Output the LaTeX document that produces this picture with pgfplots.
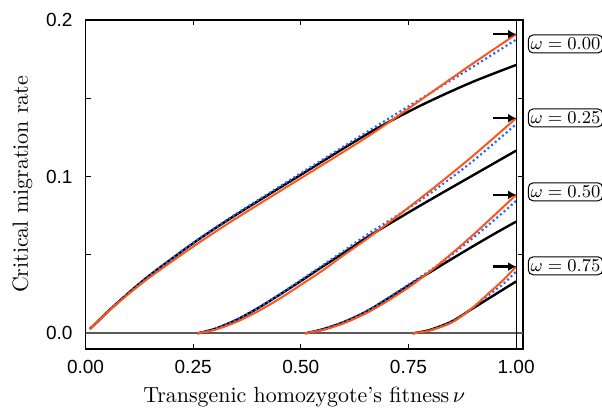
\documentclass[border=0pt]{standalone}
\usepackage{pgfplots}
\pgfplotsset{compat=1.18}
\usepackage{fontspec}
\newfontfamily\ticksans{Liberation Sans}
\usetikzlibrary{arrows.meta}
\definecolor{myorange}{RGB}{255,85,25}
\definecolor{myblue}{RGB}{40,100,250}
\definecolor{zerogray}{RGB}{90,90,90}
\begin{document}
\begin{tikzpicture}
\begin{axis}[name=ax, scale only axis, width=218.75pt, height=164.5pt,
 xmin=0, xmax=1.016, ymin=-0.01, ymax=0.2,
 xtick={0,0.25,0.5,0.75,1}, ytick={0,0.1,0.2}, minor ytick={0.05,0.15},
 tick align=inside, major tick length=2.5pt, minor tick length=2.5pt,
 tick style={black, line width=0.5pt},
 axis line style={line width=0.8pt},
 scaled ticks=false,
 /pgf/number format/assume math mode=true,
 x tick label style={/pgf/number format/fixed, /pgf/number format/fixed zerofill, /pgf/number format/precision=2, font=\ticksans\fontsize{9.5}{11}\selectfont, yshift=-2pt},
 y tick label style={/pgf/number format/fixed, /pgf/number format/fixed zerofill, /pgf/number format/precision=1, font=\ticksans\fontsize{9.5}{11}\selectfont, xshift=-3pt},
 clip=false,
 xlabel={Transgenic homozygote's fitness\,$\nu$},
 ylabel={Critical migration rate},
 label style={font=\fontsize{10.95}{13}\selectfont},
 every axis plot/.append style={line join=round},
]
% zero line
\addplot[zerogray, line width=1pt] coordinates {(0,0) (1.016,0)};
% omega = 0
\addplot[black, line width=1.2pt, smooth] coordinates {(0.01,0.0027)(0.065,0.0172)(0.142,0.0355)(0.25,0.0575)(0.343,0.0745)(0.5,0.1012)(0.661,0.1283)(0.777,0.1452)(0.893,0.1598)(1,0.1713)};
\addplot[myblue, line width=1.1pt, dash pattern=on 1pt off 1.4pt, smooth] coordinates {(0.01,0.0027)(0.065,0.0172)(0.142,0.0356)(0.25,0.0578)(0.343,0.0750)(0.5,0.1022)(0.661,0.1298)(0.777,0.1494)(0.893,0.1690)(1,0.1875)};
\addplot[myorange, line width=1pt, smooth] coordinates {(0.01,0.0027)(0.065,0.0169)(0.142,0.0343)(0.25,0.0553)(0.343,0.0722)(0.5,0.0990)(0.661,0.1266)(0.777,0.1487)(0.893,0.1710)(1,0.1909)};
% omega = 0.25
\addplot[black, line width=1.2pt, smooth] coordinates {(0.26,0)(0.30,0.0028)(0.35,0.0085)(0.40,0.0160)(0.45,0.0245)(0.50,0.0334)(0.55,0.0425)(0.60,0.0515)(0.661,0.0625)(0.777,0.0815)(0.893,0.0998)(1,0.1166)};
\addplot[myblue, line width=1.1pt, dash pattern=on 1pt off 1.4pt, smooth] coordinates {(0.26,0)(0.30,0.0028)(0.35,0.0086)(0.40,0.0162)(0.45,0.0248)(0.50,0.0340)(0.55,0.0433)(0.60,0.0527)(0.661,0.0642)(0.777,0.0848)(0.893,0.1085)(1,0.1335)};
\addplot[myorange, line width=1pt, smooth] coordinates {(0.26,0)(0.30,0.0022)(0.35,0.0072)(0.40,0.0140)(0.45,0.0220)(0.50,0.0309)(0.55,0.0400)(0.60,0.0500)(0.661,0.0618)(0.777,0.0860)(0.893,0.1117)(1,0.1373)};
% omega = 0.5
\addplot[black, line width=1.2pt, smooth] coordinates {(0.51,0)(0.55,0.0025)(0.60,0.0072)(0.653,0.0140)(0.70,0.0218)(0.754,0.0312)(0.80,0.0390)(0.85,0.0474)(0.90,0.0556)(0.95,0.0636)(1,0.0713)};
\addplot[myblue, line width=1.1pt, dash pattern=on 1pt off 1.4pt, smooth] coordinates {(0.51,0)(0.55,0.0025)(0.60,0.0073)(0.653,0.0142)(0.70,0.0222)(0.754,0.0318)(0.80,0.0400)(0.85,0.0500)(0.90,0.0610)(0.95,0.0725)(1,0.0845)};
\addplot[myorange, line width=1pt, smooth] coordinates {(0.51,0)(0.55,0.0020)(0.60,0.0064)(0.653,0.0130)(0.70,0.0204)(0.754,0.0300)(0.80,0.0395)(0.85,0.0508)(0.90,0.0628)(0.95,0.0755)(1,0.0884)};
% omega = 0.75
\addplot[black, line width=1.2pt, smooth] coordinates {(0.76,0)(0.80,0.0022)(0.85,0.0075)(0.893,0.0148)(0.932,0.0215)(0.97,0.0280)(1,0.0331)};
\addplot[myblue, line width=1.1pt, dash pattern=on 1pt off 1.4pt, smooth] coordinates {(0.76,0)(0.80,0.0020)(0.85,0.0072)(0.893,0.0150)(0.932,0.0235)(0.97,0.0315)(1,0.0395)};
\addplot[myorange, line width=1pt, smooth] coordinates {(0.76,0)(0.80,0.0018)(0.85,0.0068)(0.893,0.0150)(0.932,0.0245)(0.97,0.0340)(1,0.0426)};
% vertical line at nu = 1
\addplot[black, line width=0.6pt] coordinates {(1,-0.01) (1,0.2)};
% arrows
\addplot[black, line width=1.2pt, -{Latex[length=4pt,width=4.5pt]}] coordinates {(0.947,0.1909)(1.0,0.1909)};
\addplot[black, line width=1.2pt, -{Latex[length=4pt,width=4.5pt]}] coordinates {(0.947,0.1373)(1.0,0.1373)};
\addplot[black, line width=1.2pt, -{Latex[length=4pt,width=4.5pt]}] coordinates {(0.947,0.0884)(1.0,0.0884)};
\addplot[black, line width=1.2pt, -{Latex[length=4pt,width=4.5pt]}] coordinates {(0.947,0.0426)(1.0,0.0426)};
% labels
\tikzset{omlab/.style={draw, rounded corners=2.5pt, inner xsep=1.2pt, inner ysep=1.6pt, anchor=west, line width=0.5pt, font=\fontsize{8.6}{10}\selectfont}}
\node[omlab] at (axis cs:1.027,0.1847) {$\omega = 0.00$};
\node[omlab] at (axis cs:1.027,0.1375) {$\omega = 0.25$};
\node[omlab] at (axis cs:1.027,0.0903) {$\omega = 0.50$};
\node[omlab] at (axis cs:1.027,0.0431) {$\omega = 0.75$};
\end{axis}
\pgfresetboundingbox
\path ([shift={(-42.75pt,-32.5pt)}]ax.south west) rectangle ([shift={(39.5pt,10pt)}]ax.north east);
\end{tikzpicture}
\end{document}
